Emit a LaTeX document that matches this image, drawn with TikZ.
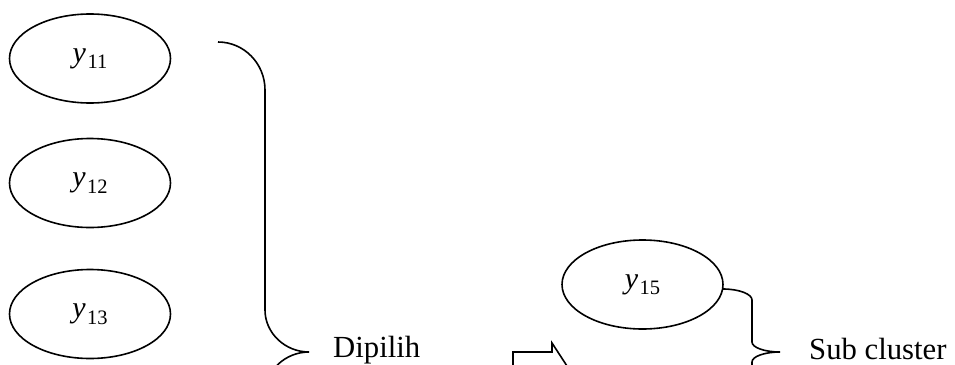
\documentclass[tikz,border=0pt]{standalone}
\usepackage{fontspec}
\setmainfont{Liberation Serif}
\usetikzlibrary{shapes.geometric}
\newcommand{\yvar}[1]{\textit{y}\kern1.5pt\raisebox{-6.5pt}{\fontsize{20.5}{20}\selectfont #1}}
\tikzset{
  oval/.style={draw, line width=1.6pt, ellipse, minimum width=161pt, minimum height=89pt, inner sep=0pt, font=\fontsize{30}{34}\selectfont},
  label text/.style={anchor=base west, inner sep=0pt, font=\fontsize{30.7}{36}\selectfont},
  bracestyle/.style={draw, line width=1.6pt},
  blockarrow/.style={draw, line width=1.6pt, line join=miter}
}
\begin{document}
\begin{tikzpicture}[x=1pt, y=-1pt]
\useasboundingbox (0,0) rectangle (955,364);
\clip (0,0) rectangle (955,364);
\node[oval] (y11) at (90,58.5) {\yvar{11}};
\node[oval] (y12) at (90,183) {\yvar{12}};
\node[oval] (y13) at (90,314) {\yvar{13}};
\node[oval] (y15) at (642.5,284.5) {\yvar{15}};
\node[label text] (dipilih) at (333,357.5) {Dipilih};
\node[label text] (sub) at (809,359) {Sub cluster};
% first brace
\coordinate (b1s) at (218,42);
\coordinate (b1t) at (309,352);
\path[bracestyle] (b1s) .. controls (244,42) and (265,63.5) .. (265,90)
  -- (265,310) .. controls (265,333) and (285,352) .. (b1t)
  .. controls (285,352) and (265,371) .. (265,394) -- (265,620);
% second brace
\coordinate (b2s) at (723,289);
\coordinate (b2t) at (780,352);
\path[bracestyle] (b2s) .. controls (739,289) and (752,294) .. (752,300)
  -- (752,342) .. controls (752,347.5) and (764.5,352) .. (b2t)
  .. controls (764.5,352) and (752,356.5) .. (752,362) -- (752,420);
% block arrow
\path[blockarrow] (513,380) -- (513,352) -- (552,352) -- (552,343) -- (567,366) -- (552,389) -- (552,380) -- cycle;
\end{tikzpicture}
\end{document}
